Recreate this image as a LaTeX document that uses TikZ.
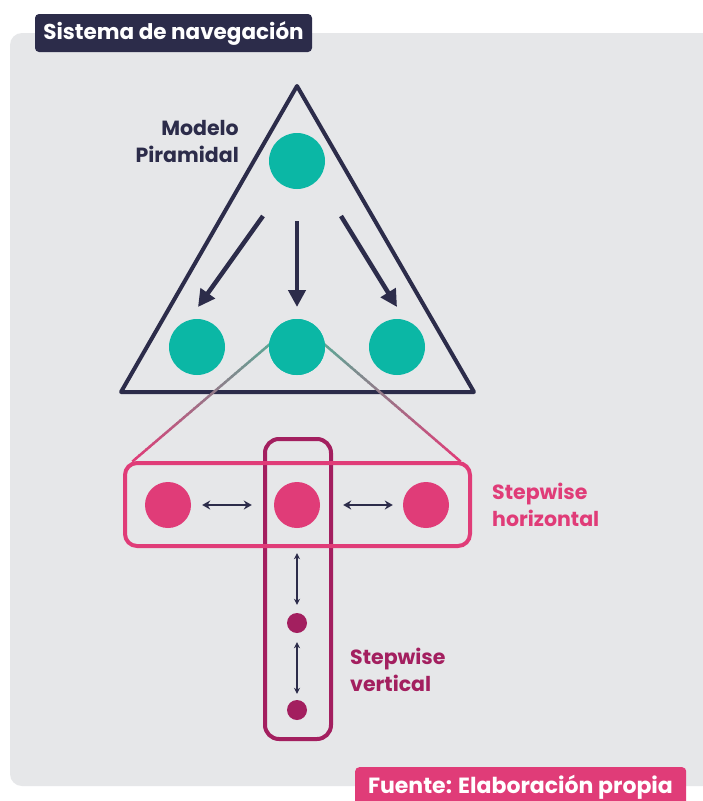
\documentclass[tikz,border=0pt]{standalone}
\usepackage{fontspec}
\setmainfont{Poppins}
\usetikzlibrary{arrows.meta,calc}
\definecolor{navy}{HTML}{2C2C4A}
\definecolor{tealc}{HTML}{0BB7A5}
\definecolor{pinkc}{HTML}{E03C78}
\definecolor{magc}{HTML}{A31F5F}
\definecolor{bggray}{HTML}{E6E7E9}
\definecolor{lineA}{HTML}{5FA595}
\tikzset{
  tealdot/.style={circle, fill=tealc, minimum size=56pt, inner sep=0pt},
  pinkdot/.style={circle, fill=pinkc, minimum size=46pt, inner sep=0pt},
  magdot/.style={circle, fill=magc, minimum size=20pt, inner sep=0pt},
  bigarrow/.style={draw=navy, line width=4.5pt, -{Triangle[length=17pt,width=17pt]}},
  dblarrow/.style={draw=navy, line width=2.4pt, {Stealth[length=8pt,width=9pt]}-{Stealth[length=8pt,width=9pt]}},
  vdblarrow/.style={draw=navy, line width=1.5pt, {Stealth[length=6pt,width=6pt]}-{Stealth[length=6pt,width=6pt]}},
  lbl/.style={font=\bfseries\fontsize{20.5}{27}\selectfont, align=left, inner sep=0pt},
  tagbox/.style={rounded corners=4pt, text=white, inner sep=0pt}
}
\begin{document}
\begin{tikzpicture}[x=1pt,y=-1pt]
\useasboundingbox (0,0) rectangle (702,801);
\fill[white] (0,0) rectangle (702,801);
\fill[bggray, rounded corners=12pt] (10,33) rectangle (730,786);

% title
\node[tagbox, fill=navy, minimum width=277pt, minimum height=38pt, font=\bfseries\fontsize{21.5}{24}\selectfont] (title) at (173.5,33) {Sistema de navegación};

% pyramid
\draw[navy, line width=4pt, line join=round] (297,86) -- (121,392) -- (474,392) -- cycle;
\node[lbl, text=navy, align=right, anchor=east] (modelo) at (239,141) {Modelo\\Piramidal};

\node[tealdot] (top) at (297,161) {};
\node[tealdot] (b1) at (197,347) {};
\node[tealdot] (b2) at (297,347) {};
\node[tealdot] (b3) at (397,347) {};

\coordinate (a1s) at (263,216);
\coordinate (a1e) at (198,307);
\coordinate (a2s) at (297,221);
\coordinate (a2e) at (297,307);
\coordinate (a3s) at (341,216);
\coordinate (a3e) at (397,307);
\draw[bigarrow] (a1s) -- (a1e);
\draw[bigarrow] (a2s) -- (a2e);
\draw[bigarrow] (a3s) -- (a3e);

% boxes
\node[draw=magc, line width=4pt, rounded corners=14pt, minimum width=66pt, minimum height=300pt, inner sep=0pt] (vbox) at (298,589) {};
\node[draw=pinkc, line width=4pt, rounded corners=12pt, minimum width=345pt, minimum height=83pt, inner sep=0pt] (hbox) at (297.5,504.5) {};

% gradient connectors
\coordinate (gl1) at (270,344);
\coordinate (gr1) at (324,344);
\coordinate (gl2) at ($(hbox.north west)+(10,0)$);
\coordinate (gr2) at ($(hbox.north east)+(-12,0)$);
\foreach \i in {0,...,39}{
  \pgfmathtruncatemacro{\p}{100*\i/39}
  \draw[pinkc!\p!lineA, line width=2.5pt] ($(gl1)!{\i/40}!(gl2)$) -- ($(gl1)!{(\i+1.2)/40}!(gl2)$);
  \draw[pinkc!\p!lineA, line width=2.5pt] ($(gr1)!{\i/40}!(gr2)$) -- ($(gr1)!{(\i+1.2)/40}!(gr2)$);
}
\node[tealdot] at (b2) {};

% stepwise horizontal
\node[pinkdot] (p1) at (168,505) {};
\node[pinkdot] (p2) at (297,505) {};
\node[pinkdot] (p3) at (426,505) {};
\draw[dblarrow, shorten <=11pt, shorten >=22pt] (p1) -- (p2);
\draw[dblarrow, shorten <=23pt, shorten >=10pt] (p2) -- (p3);
\node[lbl, text=pinkc, anchor=west] (sh) at (492,505) {Stepwise\\horizontal};

% stepwise vertical
\node[magdot] (v1) at (297,623) {};
\node[magdot] (v2) at (297,710) {};
\draw[vdblarrow, shorten <=25pt, shorten >=8pt] (p2) -- (v1);
\draw[vdblarrow, shorten <=9pt, shorten >=6pt] (v1) -- (v2);
\node[lbl, text=magc, anchor=west] (sv) at (350,670) {Stepwise\\vertical};

% footer
\node[tagbox, fill=pinkc, minimum width=331pt, minimum height=40pt, anchor=north west] (src) at (355,767) {};
\node[tagbox, text=white, anchor=base, font=\bfseries\fontsize{22}{24}\selectfont] (srct) at (520.5,793) {Fuente: Elaboración propia};
\end{tikzpicture}
\end{document}
